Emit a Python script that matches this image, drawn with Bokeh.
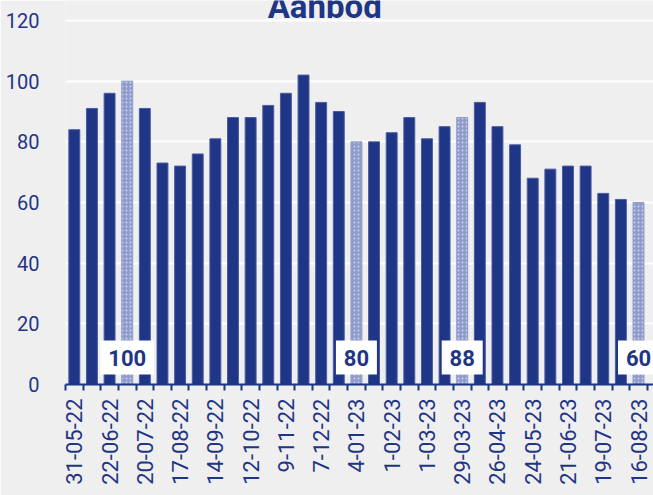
import math
from bokeh.plotting import figure
from bokeh.models import Range1d, FixedTicker, ColumnDataSource, Label
from bokeh.core.properties import value
from bokeh.embed import file_html
from bokeh.resources import INLINE

title = "Aanbod"
values = [84, 91, 96, 100, 91, 73, 72, 76, 81, 88, 88, 92, 96, 102, 93, 90,
          80, 80, 83, 88, 81, 85, 88, 93, 85, 79, 68, 71, 72, 72, 63, 61, 60]
tick_labels = ["31-05-22", "22-06-22", "20-07-22", "17-08-22", "14-09-22",
               "12-10-22", "9-11-22", "7-12-22", "4-01-23", "1-02-23",
               "1-03-23", "29-03-23", "26-04-23", "24-05-23", "21-06-23",
               "19-07-23", "16-08-23"]
highlight_idx = [3, 16, 22, 32]
y_ticks = [0, 20, 40, 60, 80, 100, 120]

NAVY = "#1f3585"
LIGHT = "#8e9bcb"
BG = "#efefef"
FONT = "Roboto"

n = len(values)
xs = list(range(n))
normal = [i for i in xs if i not in highlight_idx]

p = figure(width=653, height=495, output_backend="svg", toolbar_location=None,
           x_range=Range1d(-0.5, n - 0.5 + 0.35), y_range=Range1d(0, 126.59),
           min_border_left=65, min_border_right=0, min_border_top=0,
           min_border_bottom=111)
p.background_fill_color = BG
p.border_fill_color = BG
p.outline_line_color = None

src_n = ColumnDataSource(dict(x=normal, top=[values[i] for i in normal]))
src_h = ColumnDataSource(dict(x=highlight_idx, top=[values[i] for i in highlight_idx]))
p.vbar(x="x", top="top", width=0.62, source=src_n, fill_color=NAVY,
       line_color="#4a5ca0", line_width=1)
p.vbar(x="x", top="top", width=0.62, source=src_h, fill_color=LIGHT,
       line_color=LIGHT, line_width=1, hatch_pattern="dot", hatch_color="white",
       hatch_scale=4, hatch_weight=1, hatch_alpha=0.55)

# value boxes
lab_text = [str(values[i]) for i in highlight_idx]
lab_w = [16 + 12.5 * len(t) for t in lab_text]
src_l = ColumnDataSource(dict(x=highlight_idx, y=[8.9] * len(highlight_idx),
                              text=lab_text, w=lab_w))
p.rect(x="x", y="y", width="w", height=34, width_units="screen",
       height_units="screen", source=src_l, fill_color="white", line_color=None)
p.text(x="x", y="y", text="text", source=src_l, text_font=value(FONT),
       text_font_style="bold", text_font_size="22px", text_color=NAVY,
       text_align="center", text_baseline="middle")

# grid
p.xgrid.visible = False
p.ygrid.ticker = FixedTicker(ticks=y_ticks)
p.ygrid.grid_line_color = "white"
p.ygrid.grid_line_width = 2

# y axis
p.yaxis.ticker = FixedTicker(ticks=y_ticks)
p.yaxis.axis_line_color = None
p.yaxis.major_tick_line_color = None
p.yaxis.minor_tick_line_color = None
p.yaxis.major_label_standoff = 20
p.yaxis.major_label_text_font = FONT
p.yaxis.major_label_text_font_size = "20px"
p.yaxis.major_label_text_color = NAVY

# x axis
major = [2 * k for k in range(len(tick_labels))]
minor = [i - 0.5 for i in range(n + 1)]
p.xaxis.ticker = FixedTicker(ticks=major, minor_ticks=minor)
p.xaxis.major_label_overrides = {m: t for m, t in zip(major, tick_labels)}
p.xaxis.major_label_orientation = math.pi / 2
p.xaxis.major_tick_line_color = None
p.xaxis.major_tick_out = 6
p.xaxis.major_tick_in = 0
p.xaxis.minor_tick_line_color = NAVY
p.xaxis.minor_tick_line_width = 2
p.xaxis.minor_tick_out = 6
p.xaxis.minor_tick_in = 0
p.xaxis.axis_line_color = NAVY
p.xaxis.axis_line_width = 2
p.xaxis.major_label_standoff = 8
p.xaxis.major_label_text_font = FONT
p.xaxis.major_label_text_font_size = "22px"
p.xaxis.major_label_text_color = NAVY

p.add_layout(Label(x=14.2, y=124.6, text=title, text_font=FONT,
                   text_font_style="bold", text_font_size="33px",
                   text_color=NAVY, text_align="center",
                   text_baseline="alphabetic"))

open("out.html", "w").write(file_html(p, INLINE))
